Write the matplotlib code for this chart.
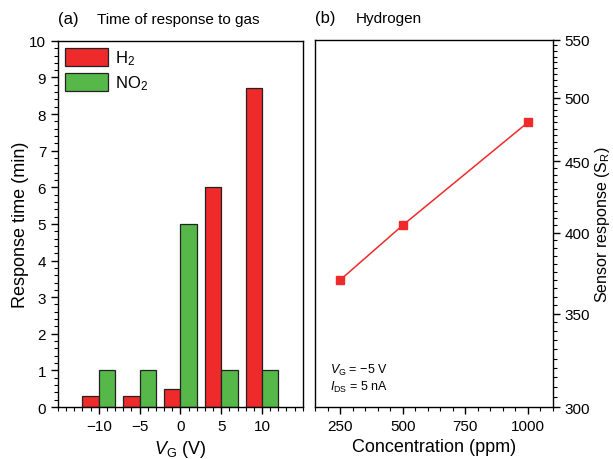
import matplotlib
matplotlib.use("Agg")
import matplotlib.pyplot as plt
from matplotlib.ticker import MultipleLocator, FixedLocator, NullFormatter, FuncFormatter
import numpy as np

plt.rcParams['font.family'] = ['Liberation Sans', 'DejaVu Sans']
plt.rcParams['mathtext.fontset'] = 'custom'
plt.rcParams['mathtext.rm'] = 'Liberation Sans'
plt.rcParams['mathtext.it'] = 'Liberation Sans:italic'

# Panel (a): response time vs gate voltage
gate_voltage = [-10, -5, 0, 5, 10]
h2_time = [0.3, 0.3, 0.5, 6.0, 8.7]
no2_time = [1.0, 1.0, 5.0, 1.0, 1.0]

# Panel (b): hydrogen response vs concentration
concentration = [250, 500, 1000]
sensor_response = [370, 405, 480]

RED = '#EE2A2A'
GREEN = '#55B848'
EDGE = '#222222'

fig = plt.figure(figsize=(6.13, 4.6), dpi=100)
ax1 = fig.add_axes([0.0946, 0.113, 0.3994, 0.796])
ax2 = fig.add_axes([0.514, 0.113, 0.388, 0.798])

bw = 2.0
x = np.array(gate_voltage, dtype=float)
ax1.bar(x - bw / 2, h2_time, width=bw, color=RED, edgecolor=EDGE, linewidth=0.9, label=r'H$_2$')
ax1.bar(x + bw / 2, no2_time, width=bw, color=GREEN, edgecolor=EDGE, linewidth=0.9, label=r'NO$_2$')
ax1.set_xlim(-15, 15)
ax1.set_ylim(0, 10)
ax1.xaxis.set_major_locator(FixedLocator(gate_voltage))
ax1.set_xticklabels(['\u221210', '\u22125', '0', '5', '10'])
ax1.xaxis.set_minor_locator(MultipleLocator(1))
ax1.yaxis.set_major_locator(MultipleLocator(1))
ax1.yaxis.set_minor_locator(MultipleLocator(0.2))
ax1.tick_params(which='both', direction='out', top=False, right=False, labelsize=11)
ax1.tick_params(which='major', length=5, width=1)
ax1.tick_params(which='minor', length=3, width=0.8)
ax1.set_xlabel(r'$V_{\mathrm{G}}$ (V)', fontsize=13, labelpad=4)
ax1.set_ylabel('Response time (min)', fontsize=13, labelpad=0)
ax1.legend(loc='upper left', frameon=False, fontsize=12, handlelength=2.6,
           handleheight=1.3, handletextpad=0.4, labelspacing=0.35,
           borderaxespad=0.2, borderpad=0.2)
ax1.text(0.0, 1.04, '(a)', transform=ax1.transAxes, fontsize=12, va='bottom', ha='left')
ax1.text(0.16, 1.04, 'Time of response to gas', transform=ax1.transAxes, fontsize=11,
         va='bottom', ha='left')

ax2.plot(concentration, sensor_response, color=RED, linewidth=1.1, marker='s',
         markersize=6, markerfacecolor=RED, markeredgecolor=RED)
ax2.set_yscale('log')
ax2.set_xlim(150, 1100)
ax2.set_ylim(300, 550)
ax2.xaxis.set_major_locator(FixedLocator([250, 500, 750, 1000]))
ax2.xaxis.set_minor_locator(MultipleLocator(50))
ax2.yaxis.set_major_locator(FixedLocator([300, 350, 400, 450, 500, 550]))
ax2.yaxis.set_minor_locator(FixedLocator(np.arange(300, 551, 5)))
ax2.yaxis.set_minor_formatter(NullFormatter())
ax2.yaxis.set_major_formatter(FuncFormatter(lambda v, p: f'{v:.0f}'))
ax2.yaxis.tick_right()
ax2.yaxis.set_label_position('right')
ax2.tick_params(which='both', direction='out', top=False, left=False, labelleft=False,
                right=True, labelright=True, labelsize=11)
ax2.tick_params(which='major', length=5, width=1)
ax2.tick_params(which='minor', length=3, width=0.8)
ax2.set_xlabel('Concentration (ppm)', fontsize=13, labelpad=4)
ax2.set_ylabel(r'Sensor response (S$_{\mathrm{R}}$)', fontsize=11.5, labelpad=2)
ax2.text(0.063, 0.103, '$V_{\\mathrm{G}}$ = \u22125 V', transform=ax2.transAxes,
         fontsize=9, va='center', ha='left')
ax2.text(0.063, 0.057, r'$I_{\mathrm{DS}}$ = 5 nA', transform=ax2.transAxes, fontsize=9,
         va='center', ha='left')
ax2.text(0.0, 1.04, '(b)', transform=ax2.transAxes, fontsize=12, va='bottom', ha='left')
ax2.text(0.17, 1.04, 'Hydrogen', transform=ax2.transAxes, fontsize=11, va='bottom', ha='left')

for ax in (ax1, ax2):
    for s in ax.spines.values():
        s.set_linewidth(1.0)

fig.savefig('out.png', dpi=100)
